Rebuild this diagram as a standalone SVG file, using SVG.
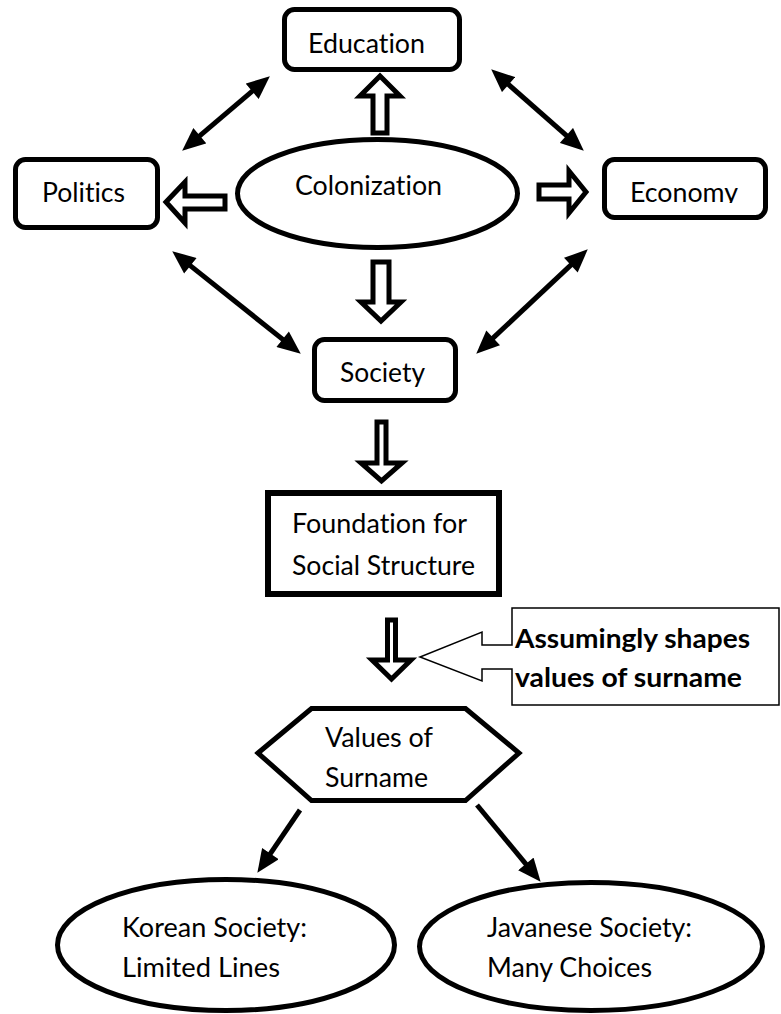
<svg xmlns="http://www.w3.org/2000/svg" width="781" height="1014" viewBox="0 0 781 1014">
<style>
  .box { fill: #fff; stroke: #000; stroke-width: 5; }
  .blk { fill: #fff; stroke: #000; stroke-width: 5; stroke-linejoin: miter; stroke-miterlimit: 10; }
  .line { fill: none; stroke: #000; stroke-width: 5; }
  .t { font-family: Lato, "Open Sans", sans-serif; font-size: 26px; fill: #000; font-variant-ligatures: none; }
  .b { font-family: Lato, "Open Sans", sans-serif; font-size: 27px; font-weight: bold; fill: #000; font-variant-ligatures: none; }
</style>
<defs>
  <marker id="ah" markerUnits="userSpaceOnUse" markerWidth="24" markerHeight="20" viewBox="0 0 22 19" refX="2" refY="9.5" orient="auto-start-reverse">
    <path d="M0,0 L22,9.5 L0,19 Z" fill="#000"/>
  </marker>
  <clipPath id="ecoClip"><rect x="600" y="150" width="180" height="53"/></clipPath>
</defs>
<rect width="781" height="1014" fill="#fff"/>

<g id="connectors">
  <line class="line" x1="253.8" y1="89.9" x2="198.2" y2="137.1" marker-start="url(#ah)" marker-end="url(#ah)"/>
  <line class="line" x1="507.0" y1="83.2" x2="568.0" y2="136.8" marker-start="url(#ah)" marker-end="url(#ah)"/>
  <line class="line" x1="188.7" y1="264.4" x2="284.3" y2="340.6" marker-start="url(#ah)" marker-end="url(#ah)"/>
  <line class="line" x1="572.4" y1="263.7" x2="491.6" y2="339.3" marker-start="url(#ah)" marker-end="url(#ah)"/>
  <line class="line" x1="300" y1="810" x2="269.2" y2="855.4" marker-end="url(#ah)"/>
  <line class="line" x1="477" y1="805" x2="527.2" y2="865.6" marker-end="url(#ah)"/>
  <polygon id="arrow-up" class="blk" points="380,76 400,96 387,96 387,133 373,133 373,96 360,96"/>
  <polygon id="arrow-left" class="blk" points="166,202 185,182 185,196 225,196 225,209 185,209 185,223"/>
  <polygon id="arrow-right" class="blk" points="539,185 569,185 569,171 586,192 569,213 569,199 539,199"/>
  <polygon id="arrow-down1" class="blk" points="373,262 389,262 389,302 401,302 381,321 361,302 373,302"/>
  <polygon id="arrow-down2" class="blk" points="377,422 386,422 386,463 402,463 381.5,481 361,463 377,463"/>
  <polygon id="arrow-down3" class="blk" points="387.5,620 395.5,620 395.5,660 411,660 391.5,679 372,660 387.5,660"/>
</g>

<g id="education">
  <rect class="box" x="284.5" y="9.5" width="175" height="60" rx="10"/>
  <text class="t" x="308" y="53" textLength="117" lengthAdjust="spacingAndGlyphs">Education</text>
</g>
<g id="colonization">
  <ellipse class="box" cx="377.5" cy="193.5" rx="140" ry="54"/>
  <text class="t" x="295" y="195" textLength="147" lengthAdjust="spacingAndGlyphs">Colonization</text>
</g>
<g id="politics">
  <rect class="box" x="15.5" y="159.5" width="142" height="68" rx="10"/>
  <text class="t" x="42" y="202" textLength="83" lengthAdjust="spacingAndGlyphs">Politics</text>
</g>
<g id="economy">
  <rect class="box" x="604.5" y="159.5" width="161" height="58" rx="10"/>
  <text class="t" x="630" y="202" textLength="108" lengthAdjust="spacingAndGlyphs" clip-path="url(#ecoClip)">Economy</text>
</g>
<g id="society">
  <rect class="box" x="314.5" y="339.5" width="141" height="61" rx="10"/>
  <text class="t" x="340" y="382" textLength="85" lengthAdjust="spacingAndGlyphs">Society</text>
</g>
<g id="foundation">
  <rect x="268" y="493" width="231" height="101" fill="#fff" stroke="#000" stroke-width="6"/>
  <text class="t" x="292" y="533" textLength="175" lengthAdjust="spacingAndGlyphs">Foundation for</text>
  <text class="t" x="292" y="575" textLength="183" lengthAdjust="spacingAndGlyphs">Social Structure</text>
</g>
<g id="callout">
  <path d="M512,645 L482,645 L482,632 L420,657 L482,681 L482,669 L512,669 L512,705 L779,705 L779,608 L512,608 Z" fill="#fff" stroke="#000" stroke-width="1.5"/>
  <text class="b" x="515" y="648" textLength="235" lengthAdjust="spacingAndGlyphs">Assumingly shapes</text>
  <text class="b" x="515" y="687" textLength="227" lengthAdjust="spacingAndGlyphs">values of surname</text>
</g>
<g id="values">
  <polygon class="box" points="258,753 311.5,708.5 465.5,708.5 519,753 465.5,800.5 311.5,800.5"/>
  <text class="t" x="325" y="747" textLength="108" lengthAdjust="spacingAndGlyphs">Values of</text>
  <text class="t" x="325" y="787" textLength="103" lengthAdjust="spacingAndGlyphs">Surname</text>
</g>
<g id="korean">
  <ellipse class="box" cx="226" cy="945" rx="168.5" ry="65.5"/>
  <text class="t" x="122" y="937" textLength="185" lengthAdjust="spacingAndGlyphs">Korean Society:</text>
  <text class="t" x="122" y="977" textLength="158" lengthAdjust="spacingAndGlyphs">Limited Lines</text>
</g>
<g id="javanese">
  <ellipse class="box" cx="591" cy="946.5" rx="171.5" ry="64"/>
  <text class="t" x="487" y="937" textLength="205" lengthAdjust="spacingAndGlyphs">Javanese Society:</text>
  <text class="t" x="487" y="977" textLength="165" lengthAdjust="spacingAndGlyphs">Many Choices</text>
</g>
</svg>
